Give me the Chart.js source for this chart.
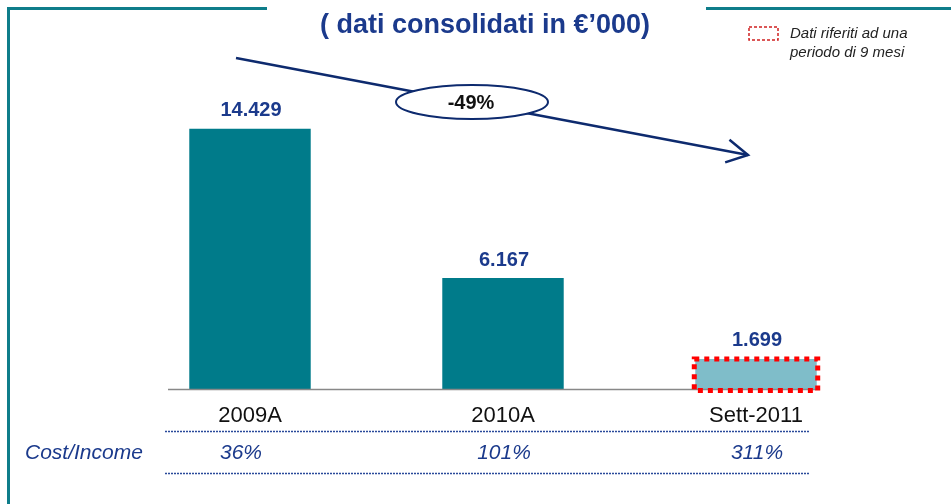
<!DOCTYPE html>
<html>
<head>
<meta charset="utf-8">
<script src="https://cdn.jsdelivr.net/npm/chart.js@4.4.1/dist/chart.umd.min.js"></script>
<style>
  html, body { margin: 0; padding: 0; background: #fff; }
  canvas { display: block; }
</style>
</head>
<body>
<canvas id="chart" width="951" height="504"></canvas>
<script>
   var categories = ["2009A", "2010A", "Sett-2011"];
   var values = [14429, 6167, 1699];
   var valueLabels = ["14.429", "6.167", "1.699"];
   var costIncome = ["36%", "101%", "311%"];
   var changeLabel = "-49%";
   var titleText = "( dati consolidati in \u20ac\u2019000)";
   var noteLines = ["Dati riferiti ad una", "periodo di 9 mesi"];

   var navy = "#1b3a8c";
   var teal = "#007b8a";
   var lightTeal = "#7fbdc9";
   var font = "'Liberation Sans', Arial, sans-serif";

   // draws the slide bits around the bars: frame, title, arrow, labels, ratios
   var decor = {
      id: "decor",
      beforeDraw: function (chart) {
         var ctx = chart.ctx;
         ctx.save();
         ctx.fillStyle = "#fff";
         ctx.fillRect(0, 0, chart.width, chart.height);
         // frame
         ctx.strokeStyle = "#0e7d8a";
         ctx.lineWidth = 3;
         ctx.beginPath();
         ctx.moveTo(8.5, chart.height);
         ctx.lineTo(8.5, 8.5);
         ctx.lineTo(267, 8.5);
         ctx.moveTo(706, 8.5);
         ctx.lineTo(chart.width, 8.5);
         ctx.stroke();
         ctx.restore();
      },
      afterDraw: function (chart) {
         var ctx = chart.ctx;
         var bars = chart.getDatasetMeta(0).data;
         var base = chart.scales.y.getPixelForValue(0);
         ctx.save();

         // title
         ctx.fillStyle = navy;
         ctx.font = "bold 27px " + font;
         ctx.textAlign = "center";
         ctx.textBaseline = "middle";
         ctx.fillText(titleText, 485, 26);

         // note box
         ctx.strokeStyle = "#d02020";
         ctx.lineWidth = 1.5;
         ctx.setLineDash([3, 2]);
         ctx.strokeRect(749, 27, 29, 13);
         ctx.setLineDash([]);
         ctx.fillStyle = "#222";
         ctx.font = "italic 15px " + font;
         ctx.textAlign = "left";
         ctx.fillText(noteLines[0], 790, 34);
         ctx.fillText(noteLines[1], 790, 53);

         // baseline
         ctx.strokeStyle = "#888";
         ctx.lineWidth = 1.5;
         ctx.beginPath();
         ctx.moveTo(bars[0].x - 82, base);
         ctx.lineTo(bars[2].x + 60, base);
         ctx.stroke();

         // value labels
         ctx.fillStyle = navy;
         ctx.font = "bold 20px " + font;
         ctx.textAlign = "center";
         for (var i = 0; i < bars.length; i++) {
            ctx.fillText(valueLabels[i], bars[i].x + 1, bars[i].y - 18);
         }

         // red dotted border on partial-year bar
         var b = bars[2];
         var half = b.width / 2;
         ctx.strokeStyle = "#ff0000";
         ctx.lineWidth = 5;
         ctx.setLineDash([5, 5]);
         ctx.strokeRect(b.x - half - 1, b.y, b.width + 2, base - b.y + 1);
         ctx.setLineDash([]);

         // trend arrow
         var x1 = bars[0].x - 14, y1 = 58, x2 = bars[2].x - 8, y2 = 155;
         ctx.strokeStyle = "#0d2a6e";
         ctx.lineWidth = 2.5;
         ctx.beginPath();
         ctx.moveTo(x1, y1);
         ctx.lineTo(x2, y2);
         ctx.stroke();
         var ang = Math.atan2(y2 - y1, x2 - x1);
         ctx.beginPath();
         ctx.moveTo(x2 - 24 * Math.cos(ang - 0.5), y2 - 24 * Math.sin(ang - 0.5));
         ctx.lineTo(x2, y2);
         ctx.lineTo(x2 - 24 * Math.cos(ang + 0.5), y2 - 24 * Math.sin(ang + 0.5));
         ctx.stroke();

         // change ellipse
         ctx.fillStyle = "#fff";
         ctx.lineWidth = 2;
         ctx.beginPath();
         ctx.ellipse(472, 102, 76, 17, 0, 0, Math.PI * 2);
         ctx.fill();
         ctx.stroke();
         ctx.fillStyle = "#111";
         ctx.font = "bold 20px " + font;
         ctx.fillText(changeLabel, 471, 103);

         // cost/income row
         ctx.strokeStyle = "#2a4a9a";
         ctx.lineWidth = 1.3;
         ctx.setLineDash([2, 1]);
         ctx.beginPath();
         ctx.moveTo(165, 431.5);
         ctx.lineTo(810, 431.5);
         ctx.moveTo(165, 473.5);
         ctx.lineTo(810, 473.5);
         ctx.stroke();
         ctx.setLineDash([]);
         ctx.fillStyle = navy;
         ctx.font = "italic 21px " + font;
         ctx.textAlign = "left";
         ctx.fillText("Cost/Income", 25, 453);
         ctx.textAlign = "center";
         for (var j = 0; j < bars.length; j++) {
            ctx.fillText(costIncome[j], bars[j].x + (j === 0 ? -9 : 1), 453);
         }
         ctx.restore();
      }
   };

   var ctx = document.getElementById("chart").getContext("2d");
   var chart = new Chart(ctx, {
      type: "bar",
      data: {
         labels: categories,
         datasets: [{
            data: values,
            backgroundColor: [teal, teal, lightTeal],
            borderWidth: 0,
            barPercentage: 0.48,
            categoryPercentage: 1
         }]
      },
      options: {
         responsive: false,
         animation: false,
         devicePixelRatio: 1,
         layout: { padding: { left: 123.5, right: 68.5, top: 28, bottom: 62 } },
         plugins: {
            legend: { display: false },
            tooltip: { enabled: false }
         },
         scales: {
            x: {
               grid: { display: false, drawTicks: false },
               border: { display: false },
               ticks: { color: "#111", font: { family: font, size: 22 }, padding: 13 }
            },
            y: {
               display: false,
               min: 0,
               max: 20000
            }
         }
      },
      plugins: [decor]
   });
</script>
</body>
</html>
